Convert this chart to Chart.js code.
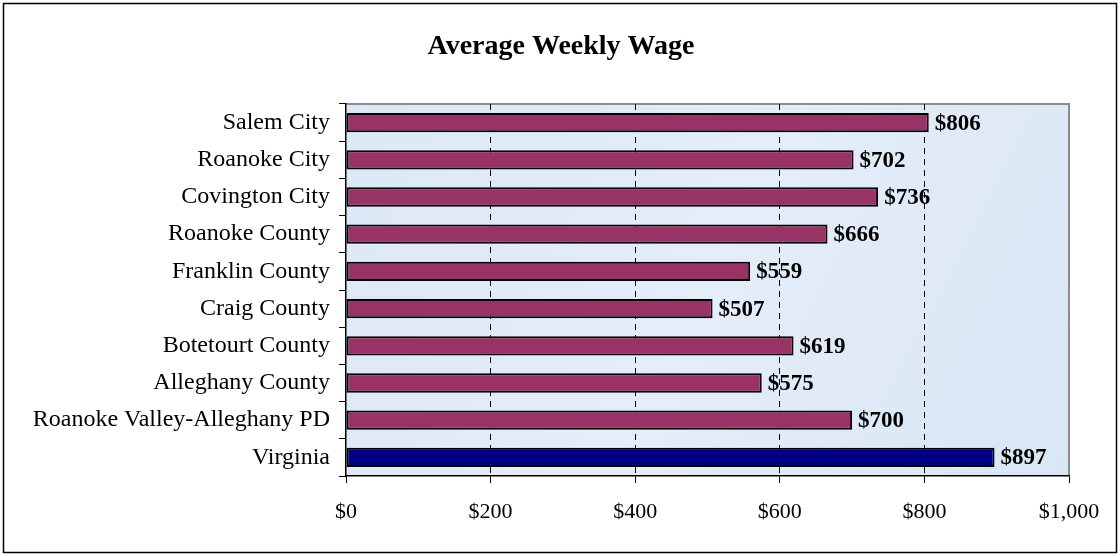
<!DOCTYPE html>
<html lang="en">

<head>
    <title>Average Weekly Wage</title>
    <script src="https://cdn.jsdelivr.net/npm/chart.js"></script>
    <style>
        html, body { margin: 0; padding: 0; background: #fff; }
        #wrap { width: 1120px; height: 556px; }
    </style>
</head>

<body>
    <div id="wrap"><canvas id="chart" width="1120" height="556"></canvas></div>

    <script>
        // Data
        const regions = ['Salem City', 'Roanoke City', 'Covington City', 'Roanoke County', 'Franklin County',
            'Craig County', 'Botetourt County', 'Alleghany County', 'Roanoke Valley-Alleghany PD', 'Virginia'];
        const wages = [806, 702, 736, 666, 559, 507, 619, 575, 700, 897];
        const barColors = ['#993366', '#993366', '#993366', '#993366', '#993366',
            '#993366', '#993366', '#993366', '#993366', '#000080'];
        const xTicks = [0, 200, 400, 600, 800, 1000];
        const chartTitle = 'Average Weekly Wage';

        const serif = "'Liberation Serif', 'Times New Roman', serif";

        // Frame, plot background, grey top/right border and the title
        const backdrop = {
            id: 'backdrop',
            beforeDraw(chart) {
                const c = chart.ctx, a = chart.chartArea;
                c.save();
                c.fillStyle = '#fff';
                c.fillRect(0, 0, chart.width, chart.height);
                c.strokeStyle = '#000';
                c.lineWidth = 1.5;
                c.strokeRect(3.5, 3.5, chart.width - 7, chart.height - 7);
                const g = c.createLinearGradient(a.left, a.top, a.right, a.bottom);
                g.addColorStop(0, '#dde8f6');
                g.addColorStop(0.5, '#e4edf8');
                g.addColorStop(1, '#d9e6f4');
                c.fillStyle = g;
                c.fillRect(a.left, a.top, a.right - a.left, a.bottom - a.top);
                c.strokeStyle = '#8c8c8c';
                c.lineWidth = 2;
                c.beginPath();
                c.moveTo(a.left, a.top);
                c.lineTo(a.right, a.top);
                c.lineTo(a.right, a.bottom);
                c.stroke();
                // title
                c.font = "bold 28px " + serif;
                c.fillStyle = '#000';
                c.textAlign = 'center';
                c.textBaseline = 'middle';
                c.fillText(chartTitle, 561, 47);
                c.restore();
            }
        };

        // Value labels next to each bar
        const valueLabels = {
            id: 'valueLabels',
            afterDatasetsDraw(chart) {
                const c = chart.ctx;
                const meta = chart.getDatasetMeta(0);
                c.save();
                c.font = "bold 23px " + serif;
                c.fillStyle = '#000';
                c.textBaseline = 'middle';
                meta.data.forEach((bar, i) => {
                    c.fillText('$' + wages[i], bar.x + 6, bar.y + 1);
                });
                c.restore();
            }
        };

        const ctx = document.getElementById('chart').getContext('2d');

        const chart = new Chart(ctx, {
            type: 'bar',
            data: {
                labels: regions,
                datasets: [{
                    data: wages,
                    backgroundColor: barColors,
                    borderColor: '#000',
                    borderWidth: 2,
                    borderSkipped: false,
                    barPercentage: 0.52,
                    categoryPercentage: 1
                }]
            },
            options: {
                indexAxis: 'y',
                animation: false,
                responsive: false,
                layout: { padding: { left: 0, right: 51, top: 104, bottom: 0 } },
                plugins: {
                    legend: { display: false },
                    tooltip: { enabled: false },
                    title: { display: false }
                },
                scales: {
                    x: {
                        min: 0,
                        max: 1000,
                        afterBuildTicks(scale) {
                            scale.ticks = xTicks.map(v => ({ value: v }));
                        },
                        afterFit(scale) { scale.height = 80; },
                        border: { display: true, color: '#000', width: 1.5, dash: [6, 5] },
                        grid: {
                            color: c => (c.tick && (c.tick.value === 0 || c.tick.value === 1000)) ? 'rgba(0,0,0,0)' : '#000',
                            lineWidth: 1,
                            tickLength: 7,
                            tickColor: '#000',
                            tickBorderDash: []
                        },
                        ticks: {
                            color: '#000',
                            padding: 16,
                            font: { family: serif, size: 22 },
                            callback: v => '$' + v.toLocaleString('en-US')
                        }
                    },
                    y: {
                        afterFit(scale) { scale.width = 346; },
                        border: { display: true, color: '#000', width: 1.5 },
                        grid: {
                            drawOnChartArea: false,
                            tickLength: 7,
                            tickColor: '#000'
                        },
                        ticks: {
                            color: '#000',
                            padding: 9,
                            font: { family: serif, size: 24 }
                        }
                    }
                }
            },
            plugins: [backdrop, valueLabels]
        });
    </script>
</body>

</html>
